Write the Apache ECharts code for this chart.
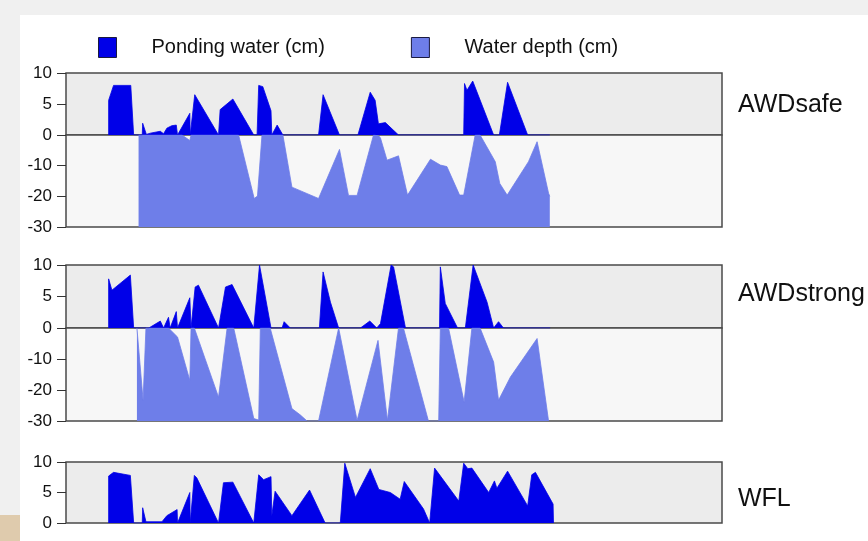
<!DOCTYPE html>
<html>
<head>
<meta charset="utf-8">
<script src="https://cdn.jsdelivr.net/npm/echarts@6/dist/echarts.min.js"></script>
<style>
html,body{margin:0;padding:0;background:#f0f0f0;}
#chart{width:868px;height:541px;}
</style>
</head>
<body>
<div id="chart"></div>
<script>
// ---- data (x = day of season, y = cm) ----
const panelNames = ['AWDsafe', 'AWDstrong', 'WFL'];
const seriesNames = ['Ponding water (cm)', 'Water depth (cm)'];
const upperTicks = [0, 5, 10];
const lowerTicks = [-30, -20, -10];

const safePonding = [[10.4,0],[10.4,5.6],[11.6,8],[15.8,8],[16.5,0],[18.6,0],[18.7,1.9],[19.6,0.1],[20.6,0.3],[23.0,0.6],[23.8,0.2],[24.6,1.1],[25.8,1.5],[26.9,1.6],[27.2,0],[30.2,3.5],[30.3,0],[31.4,6.5],[37.2,0],[37.6,4.1],[40.7,5.8],[45.8,0],[46.6,0],[47.0,8],[48.0,7.8],[50.0,3.9],[50.2,0],[50.6,0.2],[51.5,1.6],[52.9,0],[61.6,0],[62.7,6.5],[66.7,0],[71.2,0],[74.2,6.9],[75.4,5.6],[76.2,1.8],[77.9,2.0],[81.1,0],[97.0,0],[97.2,8.3],[97.8,7.2],[99.2,8.7],[104.3,0],[105.7,0],[107.7,8.5],[112.6,0],[118.0,0]];
const safeDepth = [[17.7,0],[28.3,0],[30.2,-1.8],[30.5,0],[42.1,0],[45.9,-20.7],[46.7,-19.9],[47.8,0],[52.9,0],[55.1,-17],[61.6,-20.7],[66.7,-4.7],[68.9,-19.7],[71.0,-19.7],[75.0,0],[76.3,-0.3],[76.7,-1],[78.3,-8.2],[81.1,-6.8],[83.3,-19.6],[88.9,-7.9],[91.3,-9.8],[92.9,-10.3],[96.0,-19.6],[97.0,-19.6],[99.8,0],[101.0,0],[104.7,-8.7],[105.8,-15.8],[107.6,-19.6],[112.8,-8.7],[114.9,-2.2],[117.7,-19],[118.0,-20]];

const strongPonding = [[10.4,0],[10.4,7.8],[11.2,6.0],[15.7,8.4],[16.5,0],[20.2,0],[23.0,1.1],[23.8,0],[25.0,1.7],[25.4,0],[26.9,2.6],[27.2,0],[30.2,4.8],[30.5,0],[31.5,6.5],[32.3,6.8],[37.2,0],[37.6,0],[38.9,6.5],[40.5,6.9],[45.8,0],[46.2,0],[47.2,10],[50.0,0],[52.7,0],[53.2,1.0],[54.7,0],[61.8,0],[62.7,8.9],[64.5,4.1],[66.5,0],[71.8,0],[74.1,1.1],[75.8,0],[76.7,0.7],[79.3,10],[79.9,9.7],[82.8,0],[91.1,0],[91.3,9.7],[92.5,3.9],[95.5,0],[97.4,0],[99.3,10],[102.7,4.1],[104.3,0],[104.7,0],[105.5,1.0],[106.7,0],[118.1,0]];
const strongDepth = [[17.3,0],[17.7,0],[18.8,-23.3],[19.5,0],[25.0,0],[27.2,-2.9],[30.2,-16.9],[30.5,0],[31.3,0],[37.2,-22.3],[39.3,0],[40.9,0],[45.8,-29.2],[47.0,-29.7],[47.4,0],[49.8,0],[55.1,-26],[57.1,-28],[58.8,-30],[61.6,-30],[66.5,0],[71.0,-29.8],[76.1,-4],[78.4,-29.8],[81.1,0],[82.3,0],[88.4,-30],[90.9,-30],[91.3,0],[93.3,0],[97.1,-23.9],[99.0,0],[101.0,0],[104.3,-11],[105.5,-23.3],[108.4,-15.8],[114.9,-3.4],[117.7,-30]];

const wflPonding = [[10.4,0],[10.4,7.7],[11.6,8.3],[15.7,7.8],[16.5,0],[18.6,0],[18.7,2.5],[19.5,0.2],[23.4,0.2],[23.6,0.4],[24.6,1.2],[27.1,2.2],[27.2,0],[30.2,5.0],[30.3,0],[31.3,7.8],[31.9,7.4],[37.2,0],[37.6,0],[38.4,6.6],[40.7,6.7],[45.8,0],[46.2,0],[47.0,7.9],[48.2,7.1],[50.0,7.6],[50.2,1.2],[51.0,5.2],[55.1,1.2],[59.4,5.4],[63.2,0],[66.9,0],[67.1,0],[68.0,9.8],[70.6,4.2],[74.2,8.9],[76.3,5.5],[79.1,5.0],[81.5,3.9],[82.5,6.8],[87.2,2.3],[88.7,0],[89.0,0],[89.9,9.0],[95.8,3.6],[97.0,9.8],[98.0,8.9],[99.0,9.0],[103.1,5.0],[104.5,6.9],[105.1,5.7],[107.7,8.5],[112.6,2.8],[113.6,7.9],[114.5,8.3],[118.8,3.1],[118.9,0]];

// ---- styling ----
const X_MIN = 0, X_MAX = 160;
const DARK = '#0000e8';
const LIGHT = '#6e7ee9';
const FONT = 'Liberation Sans, Arial, sans-serif';
const LEFT = 66, WIDTH = 656;

const grids = [
  {top: 73, height: 62, bg: '#ececec'},   // safe upper
  {top: 135, height: 92, bg: '#f7f7f7'},  // safe lower
  {top: 265, height: 63, bg: '#ececec'},  // strong upper
  {top: 328, height: 93, bg: '#f7f7f7'},  // strong lower
  {top: 462, height: 61, bg: '#ececec'}   // wfl
];
const isUpper = [true, false, true, false, true];

const gridOpts = grids.map(g => ({
  left: LEFT, width: WIDTH, top: g.top, height: g.height,
  show: true, backgroundColor: g.bg, borderColor: '#4a4a4a', borderWidth: 1.5, containLabel: false
}));

const xAxes = grids.map((g, i) => ({
  type: 'value', gridIndex: i, min: X_MIN, max: X_MAX,
  show: false
}));

const yAxes = grids.map((g, i) => {
  const up = isUpper[i];
  const ticks = up ? upperTicks : lowerTicks;
  return {
    type: 'value', gridIndex: i,
    min: up ? 0 : -30, max: up ? 10 : 0, interval: up ? 5 : 10,
    axisLine: {show: false},
    splitLine: {show: false},
    axisTick: {show: true, length: 9, lineStyle: {color: '#333', width: 1}},
    axisLabel: {
      show: true, margin: 14, color: '#111', fontSize: 17, fontFamily: FONT,
      formatter: v => ticks.indexOf(v) >= 0 ? String(v) : ''
    }
  };
});

function areaSeries(name, idx, data, color) {
  return {
    name: name, type: 'line', xAxisIndex: idx, yAxisIndex: idx,
    data: data, symbol: 'none', showSymbol: false, silent: true,
    lineStyle: {color: color, width: 0.8},
    itemStyle: {color: color},
    areaStyle: {color: color, opacity: 1, origin: 'start'},
    animation: false, clip: true
  };
}

const series = [
  areaSeries(seriesNames[0], 0, safePonding, DARK),
  areaSeries(seriesNames[1], 1, safeDepth, LIGHT),
  areaSeries(seriesNames[0], 2, strongPonding, DARK),
  areaSeries(seriesNames[1], 3, strongDepth, LIGHT),
  areaSeries(seriesNames[0], 4, wflPonding, DARK)
];

const titleTops = [88, 277, 482];
const titles = panelNames.map((n, i) => ({
  text: n, left: 733, top: titleTops[i],
  textStyle: {fontFamily: FONT, fontSize: 25, fontWeight: 'normal', color: '#111'}
}));

const chart = echarts.init(document.getElementById('chart'), null, {renderer: 'canvas'});
chart.setOption({
  backgroundColor: '#f0f0f0',
  animation: false,
  graphic: [
    {type: 'rect', left: 20, top: 15, shape: {width: 848, height: 526}, style: {fill: '#ffffff'}, z: -10, silent: true},
    {type: 'rect', left: 0, top: 515, shape: {width: 20, height: 26}, style: {fill: '#dfcbad'}, z: -10, silent: true}
  ],
  title: titles,
  legend: {
    left: 93, top: 32, itemWidth: 18, itemHeight: 20, itemGap: 86,
    selectedMode: false,
    textStyle: {fontFamily: FONT, fontSize: 20, color: '#111', padding: [0, 0, 0, 30]},
    data: [
      {name: seriesNames[0], icon: 'rect', itemStyle: {color: DARK, borderColor: '#1a1a40', borderWidth: 1}},
      {name: seriesNames[1], icon: 'rect', itemStyle: {color: LIGHT, borderColor: '#1a1a40', borderWidth: 1}}
    ]
  },
  grid: gridOpts,
  xAxis: xAxes,
  yAxis: yAxes,
  series: series
});
</script>
</body>
</html>
